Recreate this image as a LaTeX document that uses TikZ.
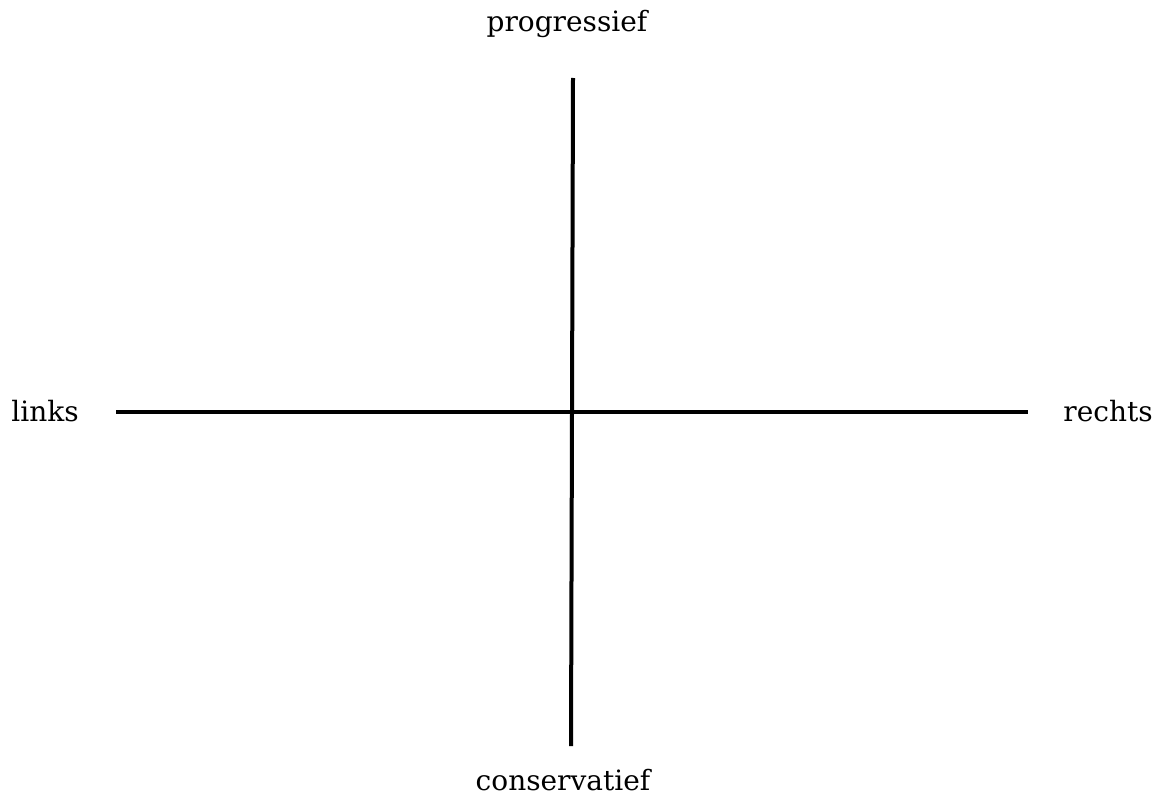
\documentclass[tikz,border=0pt]{standalone}
\usepackage{fontspec}
\setmainfont{DejaVu Serif}
\begin{document}
\begin{tikzpicture}[x=1pt,y=-1pt,
  axis/.style={line width=4pt,black},
  lab/.style={font=\fontsize{28}{32}\selectfont,inner sep=0pt}]
\useasboundingbox (0,0) rectangle (1162,797);
\coordinate (t) at (573,78);
\coordinate (b) at (571,746);
\coordinate (l) at (116,412);
\coordinate (r) at (1028,412);
\draw[axis] (t) -- (b);
\draw[axis] (l) -- (r);
\node[lab] (prog) at (567,24) {progressief};
\node[lab] (cons) at (563,780) {conservatief};
\node[lab] (links) at (45,411) {links};
\node[lab] (rechts) at (1108,411) {rechts};
\end{tikzpicture}
\end{document}
